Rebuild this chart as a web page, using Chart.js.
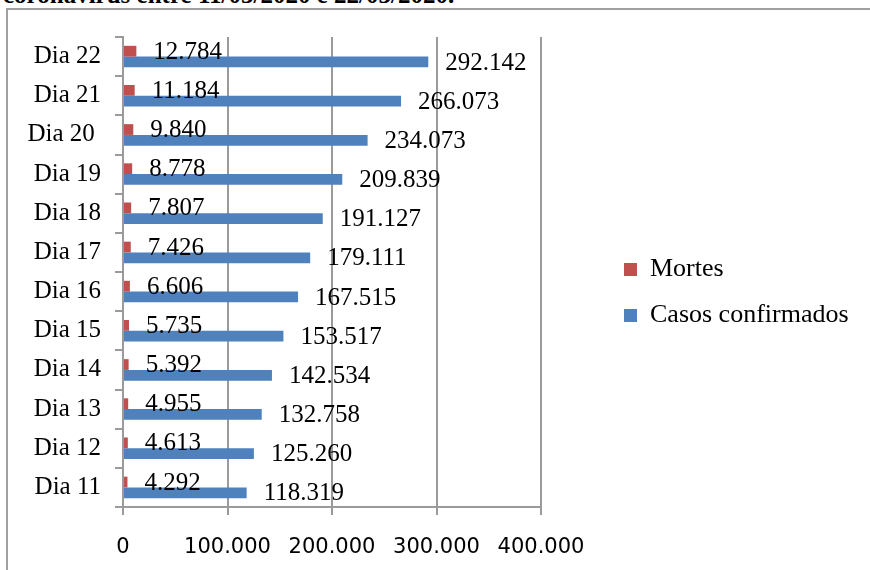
<!DOCTYPE html>
<html>
<head>
<meta charset="utf-8">
<script src="https://cdn.jsdelivr.net/npm/chart.js@4"></script>
<style>
  html, body { margin: 0; padding: 0; background: #fff; overflow: hidden; }
  body { width: 870px; height: 570px; position: relative; }
  #caption {
    position: absolute; left: 3px; top: -18px;
    font: bold 25px/25px "Liberation Serif", serif; color: #000; white-space: nowrap;
  }
  #frame {
    position: absolute; left: 6px; top: 8px; width: 900px; height: 600px;
    border-left: 2px solid #a0a0a0; border-top: 2px solid #a0a0a0;
  }
  #wrap { position: absolute; left: 0; top: 0; width: 870px; height: 570px; }
</style>
</head>
<body>
<div id="caption">coronavírus entre 11/03/2020 e 22/03/2020.</div>
<div id="frame"></div>
<div id="wrap"><canvas id="myChart"></canvas></div>
<script>
const days = ["Dia 11", "Dia 12", "Dia 13", "Dia 14", "Dia 15", "Dia 16",
              "Dia 17", "Dia 18", "Dia 19", "Dia 20 ", "Dia 21", "Dia 22"]
const mortes = [4292, 4613, 4955, 5392, 5735, 6606, 7426, 7807, 8778, 9840, 11184, 12784]
const casos = [118319, 125260, 132758, 142534, 153517, 167515, 179111, 191127, 209839, 234073, 266073, 292142]
const xTicks = [0, 100000, 200000, 300000, 400000]

const serif = '"Liberation Serif", "DejaVu Serif", serif'
const gridColor = "#9a9a9a"

// 12784 -> "12.784"
function fmt(v) {
  return String(v).replace(/\B(?=(\d{3})+(?!\d))/g, ".")
}

// numbers written just past the end of each bar
const valueLabels = {
  id: "valueLabels",
  afterDatasetsDraw(chart) {
    const ctx = chart.ctx
    ctx.save()
    ctx.font = "25px " + serif
    ctx.fillStyle = "#000"
    ctx.textAlign = "left"
    ctx.textBaseline = "middle"
    chart.data.datasets.forEach((ds, i) => {
      chart.getDatasetMeta(i).data.forEach((bar, j) => {
        ctx.fillText(fmt(ds.data[j]), bar.x + 17, bar.y + 1)
      })
    })
    ctx.restore()
  }
}

// legend sits away from the plot, like the original spreadsheet chart
const legendSpot = {
  id: "legendSpot",
  beforeInit(chart) {
    const fit = chart.legend.fit
    chart.legend.fit = function () {
      fit.bind(chart.legend)()
      this.width = 329
    }
  },
  afterLayout(chart) {
    const lg = chart.legend
    lg.left += 63
    lg.right += 63
    lg.top -= 11
    lg.bottom -= 11
  }
}

const ctx = document.getElementById("myChart")

new Chart(ctx, {
  type: "bar",
  data: {
    labels: days,
    datasets: [{
      label: "Mortes",
      data: mortes,
      backgroundColor: "#C0504D",
      borderWidth: 0
    }, {
      label: "Casos confirmados",
      data: casos,
      backgroundColor: "#4F81BD",
      borderWidth: 0
    }]
  },
  options: {
    indexAxis: "y",
    responsive: true,
    maintainAspectRatio: false,
    animation: false,
    categoryPercentage: 0.55,
    barPercentage: 1.0,
    layout: { padding: { top: 37, bottom: 0, left: 0, right: 0 } },
    plugins: {
      tooltip: { enabled: false },
      legend: {
        position: "right",
        labels: {
          color: "#000",
          font: { family: serif, size: 26 },
          boxWidth: 13,
          boxHeight: 13,
          padding: 20
        }
      }
    },
    scales: {
      y: {
        reverse: true,
        afterFit(scale) { scale.width = 123 },
        grid: { drawOnChartArea: false, color: gridColor, lineWidth: 2, tickLength: 8 },
        border: { color: gridColor, width: 2 },
        ticks: { color: "#000", padding: 14, font: { family: serif, size: 25 } }
      },
      x: {
        min: 0,
        max: 400000,
        afterBuildTicks(scale) { scale.ticks = xTicks.map(v => ({ value: v })) },
        afterFit(scale) { scale.height = 63 },
        grid: { color: gridColor, lineWidth: 2, tickLength: 8 },
        border: { color: gridColor, width: 2 },
        ticks: {
          color: "#000",
          padding: 20,
          maxRotation: 0,
          font: { family: '"DejaVu Sans", sans-serif', size: 21 },
          callback: v => fmt(v)
        }
      }
    }
  },
  plugins: [valueLabels, legendSpot]
})
</script>
</body>
</html>
